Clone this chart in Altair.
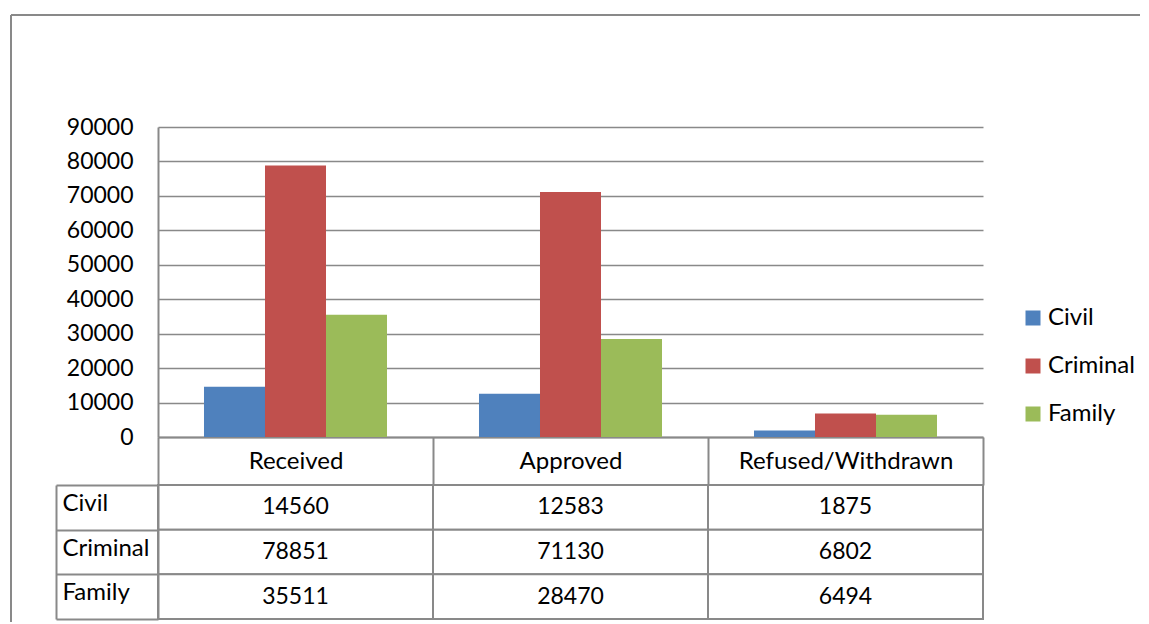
import altair as alt
import pandas as pd

categories = ["Received", "Approved", "Refused/Withdrawn"]
series = ["Civil", "Criminal", "Family"]
civil = [14560, 12583, 1875]
criminal = [78851, 71130, 6802]
family = [35511, 28470, 6494]
colors = ["#4F81BD", "#C0504D", "#9BBB59"]
y_ticks = [0, 10000, 20000, 30000, 40000, 50000, 60000, 70000, 80000, 90000]

rows = []
for s, vals in zip(series, [civil, criminal, family]):
    for c, v in zip(categories, vals):
        rows.append({"category": c, "series": s, "value": v})
df = pd.DataFrame(rows)

FONT = "Lato"
FS = 23
FS_T = 24
GRAY = "#898989"

xscale = alt.Scale(domain=categories, paddingInner=0, paddingOuter=0)

bars = alt.Chart(df).mark_bar().encode(
    x=alt.X("category:N", scale=xscale, sort=categories, title=None,
            axis=alt.Axis(orient="bottom", domain=True, domainColor=GRAY, domainWidth=2,
                          ticks=True, tickBand="extent", tickSize=48, tickColor=GRAY,
                          tickWidth=2, labelAngle=0, labelFont=FONT, labelFontSize=FS_T,
                          labelColor="black", labelBaseline="middle", labelPadding=-24,
                          labelLimit=0, grid=False)),
    xOffset=alt.XOffset("series:N", sort=series,
                        scale=alt.Scale(paddingInner=0, paddingOuter=0.754)),
    y=alt.Y("value:Q", scale=alt.Scale(domain=[0, 90000], nice=False), title=None,
            axis=alt.Axis(values=y_ticks, format="d", domain=True, domainColor=GRAY,
                          domainWidth=2, ticks=False, tickSize=0, labelPadding=25,
                          labelFont=FONT, labelFontSize=FS, labelColor="black",
                          grid=True, gridColor=GRAY, gridWidth=1.6)),
    color=alt.Color("series:N", sort=series,
                    scale=alt.Scale(domain=series, range=colors),
                    legend=alt.Legend(title=None, orient="none", legendX=863, legendY=179,
                                      symbolType="square", symbolSize=225,
                                      symbolStrokeWidth=0, labelFont=FONT,
                                      labelFontSize=FS_T, labelColor="black",
                                      labelOffset=3, rowPadding=24, padding=0,
                                      labelLimit=0)),
)

frame_df = pd.DataFrame({"a": [0]})
frame_top = alt.Chart(frame_df).mark_rule(color=GRAY, strokeWidth=2).encode(
    x=alt.value(-147), x2=alt.value(982), y=alt.value(-112))
frame_left = alt.Chart(frame_df).mark_rule(color=GRAY, strokeWidth=2).encode(
    x=alt.value(-147), y=alt.value(-112), y2=alt.value(495))

top = alt.layer(bars, frame_top, frame_left).properties(width=825, height=310)

yscale_t = alt.Scale(domain=series, paddingInner=0, paddingOuter=0)

cells = alt.Chart(df).mark_rect(fill="white", stroke=GRAY, strokeWidth=2).encode(
    x=alt.X("category:N", scale=xscale, sort=categories, axis=None),
    y=alt.Y("series:N", scale=yscale_t, sort=series, title=None,
            axis=alt.Axis(orient="left", domain=True, domainColor=GRAY, domainWidth=2,
                          ticks=True, tickBand="extent", tickSize=102, tickColor=GRAY,
                          tickWidth=2, labelAlign="left", labelPadding=-6,
                          labelOffset=-4, labelFont=FONT, labelFontSize=FS_T,
                          labelColor="black", labelLimit=0, grid=False)),
)

texts = alt.Chart(df).mark_text(font=FONT, fontSize=FS, color="black").encode(
    x=alt.X("category:N", scale=xscale, sort=categories, axis=None),
    y=alt.Y("series:N", scale=yscale_t, sort=series, title=None,
            axis=alt.Axis(orient="left", offset=102, domain=True, domainColor=GRAY,
                          domainWidth=2, ticks=False, labels=False, grid=False)),
    text=alt.Text("value:Q", format="d"),
)

table = alt.layer(cells, texts).resolve_axis(y="independent").properties(
    width=825, height=134)

chart = alt.vconcat(top, table, spacing=48, bounds="flush").properties(
    padding={"left": 2, "top": 6, "right": 0, "bottom": 0}
).configure_view(stroke=None)

chart.save("out.html", embed_options={"renderer": "svg", "actions": False})
